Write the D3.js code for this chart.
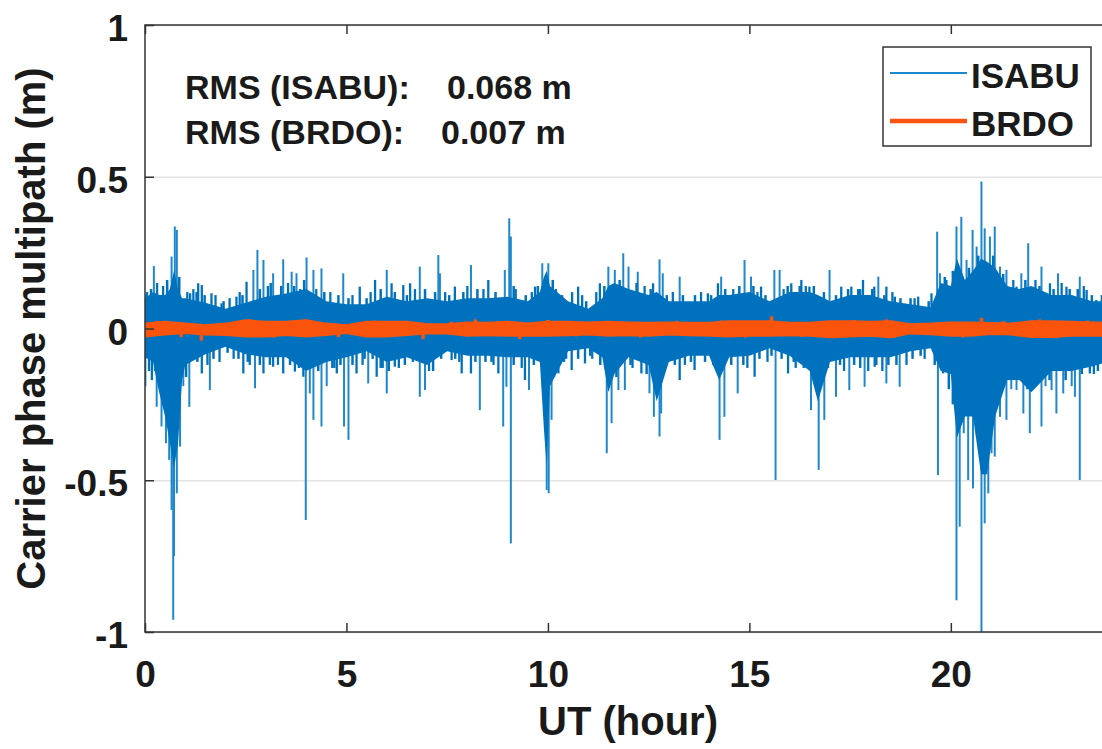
<!DOCTYPE html>
<html>
<head>
<meta charset="utf-8">
<script src="https://cdn.jsdelivr.net/npm/d3@7.9.0/dist/d3.min.js"></script>
<style>
  html, body { margin: 0; padding: 0; background: #fff; }
  svg { display: block; }
  text { font-family: 'Liberation Sans', Arial, Helvetica, sans-serif; font-weight: bold; fill: #1a1a1a; }
</style>
</head>
<body>
<svg id="chart" width="1102" height="749"></svg>
<script>
// ---- data ----
const xTicks = [0, 5, 10, 15, 20];
const yTicks = [-1, -0.5, 0, 0.5, 1];

// ISABU dense envelope (hours, upper / lower extents in m)
const envHours = [
  0, 0.2, 0.35, 0.5, 0.62, 0.72, 0.82, 0.92, 1.0, 1.5,
  2.0, 2.5, 3.0, 3.5, 4.0, 4.5, 5.0, 5.5, 6.0, 6.5,
  7.0, 7.5, 8.0, 8.5, 9.0, 9.5, 9.8, 9.9, 9.97, 10.05,
  10.5, 11.0, 11.35, 11.5, 11.65, 12.0, 12.5, 12.7, 13.0, 13.5,
  14.0, 14.25, 14.5, 15.0, 15.5, 16.0, 16.5, 16.7, 17.0, 17.5,
  18.0, 18.5, 19.0, 19.5, 19.75, 20.0, 20.15, 20.35, 20.55, 20.75,
  20.9, 21.1, 21.4, 21.7, 22.0, 22.5, 23.0, 23.5, 24.0
];
const envHi = [
  0.10, 0.12, 0.11, 0.11, 0.13, 0.19, 0.13, 0.10, 0.10, 0.085,
  0.065, 0.085, 0.105, 0.115, 0.13, 0.09, 0.08, 0.08, 0.105, 0.09,
  0.10, 0.09, 0.10, 0.10, 0.105, 0.09, 0.12, 0.17, 0.19, 0.14,
  0.09, 0.065, 0.10, 0.14, 0.15, 0.13, 0.11, 0.12, 0.09, 0.09,
  0.09, 0.11, 0.11, 0.12, 0.09, 0.12, 0.12, 0.11, 0.09, 0.11,
  0.11, 0.09, 0.08, 0.07, 0.15, 0.14, 0.23, 0.16, 0.19, 0.23,
  0.22, 0.20, 0.14, 0.13, 0.14, 0.11, 0.11, 0.09, 0.09
];
const envLo = [
  -0.095, -0.11, -0.21, -0.29, -0.38, -0.46, -0.38, -0.17, -0.12, -0.085,
  -0.06, -0.085, -0.095, -0.095, -0.14, -0.11, -0.095, -0.075, -0.11, -0.095,
  -0.12, -0.075, -0.09, -0.09, -0.095, -0.095, -0.11, -0.33, -0.46, -0.19,
  -0.075, -0.065, -0.095, -0.21, -0.15, -0.095, -0.12, -0.24, -0.11, -0.09,
  -0.09, -0.17, -0.095, -0.09, -0.065, -0.09, -0.14, -0.24, -0.11, -0.095,
  -0.095, -0.095, -0.075, -0.065, -0.14, -0.15, -0.36, -0.29, -0.29, -0.48,
  -0.48, -0.29, -0.17, -0.17, -0.21, -0.14, -0.14, -0.125, -0.105
];

// ISABU individual spikes [hour, m]
const isabuSpikes = [
  [0.04, 0.11], [0.22, 0.206], [0.66, 0.237], [0.74, 0.336], [0.79, 0.325], [1.12, 0.116],
  [1.32, 0.149], [1.41, 0.143], [1.65, 0.116], [1.9, 0.083], [2.27, 0.105], [2.52, 0.154],
  [2.69, 0.193], [2.79, 0.259], [2.94, 0.226], [3.18, 0.182], [3.43, 0.228], [3.64, 0.187],
  [3.76, 0.182], [4.01, 0.234], [4.18, 0.193], [4.38, 0.198], [4.92, 0.182], [5.33, 0.138],
  [5.71, 0.160], [6.00, 0.193],
  [0.01, -0.19], [0.17, -0.17], [0.29, -0.258], [0.41, -0.323], [0.52, -0.378], [0.60, -0.433],
  [0.66, -0.598], [0.70, -0.96], [0.72, -0.75], [0.79, -0.543], [0.87, -0.389], [0.95, -0.19],
  [1.10, -0.258], [1.41, -0.148], [1.61, -0.203], [2.44, -0.148], [2.73, -0.197], [2.94, -0.148],
  [3.18, -0.126], [3.43, -0.148], [3.72, -0.142], [3.93, -0.159], [3.99, -0.631], [4.09, -0.214],
  [4.18, -0.301], [4.38, -0.323], [4.51, -0.19], [4.76, -0.148], [4.94, -0.323], [5.05, -0.367],
  [5.25, -0.148], [5.54, -0.181], [5.75, -0.159], [6.00, -0.214],
  [6.12, 0.149], [6.41, 0.143], [6.58, 0.149], [6.82, 0.204], [7.28, 0.242], [7.32, 0.182],
  [7.69, 0.138], [8.09, 0.209], [8.52, 0.160], [8.93, 0.193], [9.04, 0.363], [9.08, 0.303],
  [9.68, 0.138], [9.86, 0.215], [10.01, 0.215], [10.75, 0.138], [11.29, 0.149], [11.50, 0.204],
  [11.66, 0.193], [11.87, 0.248], [12.0, 0.204],
  [6.20, -0.126], [6.82, -0.225], [6.95, -0.203], [7.61, -0.104], [7.86, -0.148], [8.09, -0.148],
  [8.31, -0.269], [8.77, -0.148], [8.89, -0.323], [8.97, -0.192], [9.08, -0.708], [9.43, -0.170],
  [9.53, -0.203], [9.89, -0.148], [9.97, -0.532], [10.02, -0.543], [10.09, -0.301], [10.26, -0.148],
  [10.59, -0.137], [10.92, -0.115], [11.46, -0.411], [11.58, -0.312], [11.75, -0.203], [11.91, -0.203],
  [12.23, 0.187], [12.61, 0.149], [12.77, 0.228], [12.85, 0.182], [13.27, 0.171], [13.97, 0.116],
  [14.22, 0.149], [14.30, 0.171], [14.88, 0.226], [15.04, 0.171], [15.29, 0.138], [15.62, 0.193],
  [15.75, 0.193], [16.04, 0.149], [16.29, 0.160], [16.49, 0.138], [16.99, 0.193], [17.28, 0.138],
  [17.53, 0.138], [17.82, 0.160], [18.10, 0.138],
  [12.32, -0.148], [12.52, -0.214], [12.63, -0.291], [12.77, -0.356], [12.81, -0.280], [13.27, -0.170],
  [13.64, -0.137], [14.26, -0.367], [14.38, -0.291], [14.71, -0.214], [15.13, -0.159], [15.65, -0.499],
  [15.96, -0.148], [16.53, -0.269], [16.72, -0.466], [16.86, -0.301], [17.15, -0.225], [17.48, -0.203],
  [17.86, -0.192],
  [18.20, 0.171], [18.40, 0.138], [18.61, 0.105], [19.19, 0.105], [19.52, 0.116], [19.66, 0.319],
  [19.73, 0.182], [19.89, 0.160], [20.14, 0.336], [20.26, 0.368], [20.39, 0.226], [20.54, 0.325],
  [20.64, 0.270], [20.76, 0.484], [20.84, 0.330], [20.97, 0.303], [21.09, 0.336], [21.22, 0.204],
  [21.38, 0.193], [21.63, 0.138], [21.75, 0.182], [21.92, 0.281], [22.25, 0.204], [22.46, 0.149],
  [22.66, 0.182], [22.87, 0.138], [23.20, 0.171], [23.37, 0.127], [23.61, 0.094],
  [18.11, -0.126], [18.40, -0.181], [18.73, -0.192], [19.68, -0.483], [19.81, -0.148], [20.14, -0.895],
  [20.22, -0.653], [20.32, -0.345], [20.43, -0.499], [20.55, -0.527], [20.76, -1.05], [20.84, -0.642],
  [20.93, -0.543], [21.01, -0.411], [21.09, -0.422], [21.22, -0.291], [21.38, -0.301], [21.63, -0.203],
  [21.80, -0.280], [21.96, -0.345], [22.25, -0.323], [22.50, -0.203], [22.62, -0.280], [22.79, -0.214],
  [23.08, -0.225], [23.20, -0.499], [23.45, -0.148], [23.70, -0.104],
  [0.05, 0.12], [0.1, -0.14], [0.3, 0.15], [0.45, 0.14], [1.05, 0.12], [1.2, 0.13], [1.55, -0.12],
  [1.75, 0.11], [1.85, -0.11], [2.1, 0.10], [2.2, -0.10], [2.35, 0.12], [2.6, -0.12], [3.05, 0.14],
  [3.3, -0.12], [3.55, 0.15], [3.85, 0.13], [4.25, 0.13], [4.6, 0.12], [4.7, -0.13], [5.15, 0.11],
  [5.4, -0.12], [5.6, 0.12], [5.9, -0.13], [6.3, -0.13], [6.7, 0.13], [7.05, -0.14], [7.45, 0.12],
  [7.8, -0.11], [8.0, 0.14], [8.4, 0.13], [8.65, -0.12], [9.2, 0.13], [9.35, -0.13], [9.6, 0.12],
  [10.2, 0.13], [10.4, -0.11], [10.6, 0.12], [10.85, 0.11], [11.1, -0.10], [11.2, 0.12], [12.1, -0.13],
  [12.4, 0.14], [13.1, 0.12], [13.4, -0.12], [13.8, 0.12], [14.1, -0.12], [14.6, 0.13], [14.95, -0.13],
  [15.2, 0.12], [15.45, -0.11], [15.85, 0.13], [16.15, -0.13], [16.4, 0.14], [17.35, -0.14], [17.7, 0.13],
  [17.95, -0.14], [18.3, -0.14], [18.55, 0.12], [18.9, -0.12], [19.1, 0.10], [19.35, -0.10], [21.55, 0.16],
  [21.5, -0.2], [22.1, 0.16], [22.35, -0.19], [22.75, 0.15], [23.0, -0.19], [23.3, 0.14], [23.55, -0.15],
  [23.8, 0.12], [23.9, -0.13]
];

// short excursions that roughen the edge of the dense band [hour, m]
const isabuEdge = [
  [0.15, 0.13], [0.55, 0.16], [0.85, 0.17], [1.28, 0.12], [1.48, 0.11], [1.95, 0.09], [2.42, 0.11],
  [2.85, 0.13], [3.12, 0.15], [3.38, 0.14], [3.7, 0.14], [3.95, 0.16], [4.45, 0.12], [4.8, 0.11],
  [5.05, 0.10], [5.5, 0.10], [5.85, 0.13], [6.2, 0.12], [6.5, 0.11], [6.95, 0.13], [7.2, 0.12],
  [7.55, 0.11], [7.9, 0.12], [8.25, 0.13], [8.7, 0.12], [9.15, 0.14], [9.45, 0.11], [9.75, 0.14],
  [10.12, 0.16], [10.35, 0.11], [10.95, 0.09], [11.4, 0.14], [11.78, 0.16], [12.2, 0.15], [12.55, 0.13],
  [12.95, 0.11], [13.35, 0.11], [13.65, 0.11], [14.05, 0.11], [14.4, 0.13], [14.75, 0.14], [15.1, 0.14],
  [15.4, 0.11], [15.95, 0.14], [16.25, 0.14], [16.6, 0.14], [16.85, 0.12], [17.15, 0.11], [17.45, 0.13],
  [17.75, 0.13], [18.05, 0.13], [18.35, 0.11], [18.75, 0.10], [19.0, 0.10], [19.45, 0.09], [19.85, 0.17],
  [20.05, 0.19], [20.45, 0.20], [20.68, 0.24], [21.05, 0.24], [21.3, 0.18], [21.85, 0.16], [22.2, 0.14],
  [22.55, 0.13], [22.95, 0.13], [23.15, 0.13], [23.5, 0.11], [23.75, 0.11],
  [0.25, -0.14], [1.02, -0.16], [1.3, -0.11], [1.7, -0.10], [2.05, -0.08], [2.32, -0.10], [2.55, -0.11],
  [2.85, -0.12], [3.1, -0.12], [3.6, -0.12], [3.82, -0.13], [4.3, -0.14], [4.65, -0.13], [4.85, -0.12],
  [5.15, -0.12], [5.45, -0.10], [5.65, -0.10], [5.85, -0.13], [6.05, -0.14], [6.45, -0.12], [6.65, -0.11],
  [7.15, -0.14], [7.35, -0.10], [7.7, -0.10], [8.2, -0.11], [8.45, -0.11], [8.6, -0.11], [9.15, -0.12],
  [9.65, -0.12], [10.15, -0.16], [10.45, -0.10], [10.75, -0.10], [11.05, -0.09], [11.3, -0.12], [11.7, -0.16],
  [12.05, -0.12], [12.45, -0.15], [12.9, -0.14], [13.15, -0.12], [13.55, -0.11], [13.9, -0.11], [14.15, -0.13],
  [14.55, -0.12], [14.85, -0.12], [15.25, -0.10], [15.55, -0.09], [15.8, -0.10], [16.1, -0.11], [16.35, -0.13],
  [16.95, -0.13], [17.25, -0.12], [17.6, -0.12], [17.75, -0.13], [18.15, -0.12], [18.45, -0.12], [18.65, -0.12],
  [19.05, -0.10], [19.25, -0.09], [19.6, -0.12], [19.95, -0.20], [20.05, -0.25], [20.65, -0.35], [21.15, -0.25],
  [21.45, -0.17], [21.9, -0.20], [22.15, -0.18], [22.45, -0.17], [22.85, -0.17], [23.25, -0.15], [23.65, -0.14],
  [23.85, -0.12]
];

// BRDO band (hours, upper / lower extents in m)
const brdoHours = [
  0, 0.5, 1, 1.5, 2, 2.5, 3, 3.5, 4, 4.5,
  5, 5.5, 6, 6.5, 7, 7.5, 8, 8.5, 9, 9.5,
  10, 10.5, 11, 11.5, 12, 12.5, 13, 13.5, 14, 14.5,
  15, 15.5, 16, 16.5, 17, 17.5, 18, 18.5, 19, 19.5,
  20, 20.5, 21, 21.5, 22, 22.5, 23, 23.5, 24
];
const brdoHi = [
  0.012, 0.018, 0.012, 0.007, 0.012, 0.023, 0.018, 0.018, 0.023, 0.012,
  0.007, 0.018, 0.018, 0.018, 0.010, 0.010, 0.016, 0.015, 0.018, 0.012,
  0.018, 0.018, 0.016, 0.018, 0.016, 0.015, 0.016, 0.015, 0.015, 0.020,
  0.020, 0.020, 0.015, 0.015, 0.020, 0.020, 0.018, 0.020, 0.010, 0.012,
  0.016, 0.016, 0.014, 0.012, 0.020, 0.020, 0.018, 0.016, 0.016
];
const brdoLo = [
  -0.022, -0.016, -0.011, -0.016, -0.017, -0.022, -0.022, -0.017, -0.022, -0.017,
  -0.011, -0.022, -0.022, -0.017, -0.012, -0.012, -0.020, -0.018, -0.020, -0.020,
  -0.020, -0.018, -0.016, -0.020, -0.018, -0.020, -0.016, -0.018, -0.020, -0.022,
  -0.020, -0.020, -0.018, -0.020, -0.025, -0.022, -0.020, -0.025, -0.012, -0.015,
  -0.020, -0.020, -0.014, -0.016, -0.024, -0.024, -0.020, -0.020, -0.020
];
const brdoSpikes = [
  [0.3, 0.025], [0.9, -0.028], [1.4, -0.04], [2.6, 0.03], [3.2, -0.03], [4.0, 0.03], [4.8, -0.028],
  [5.7, 0.026], [6.9, -0.035], [7.6, 0.022], [8.2, 0.03], [9.3, -0.035], [10.0, 0.028], [10.7, -0.026],
  [11.3, 0.024], [12.3, -0.03], [13.2, 0.025], [14.3, 0.026], [14.9, -0.03], [15.55, 0.04], [16.3, -0.028],
  [17.1, -0.032], [17.6, 0.028], [18.4, 0.03], [18.6, -0.03], [20.3, -0.03], [20.76, 0.035], [21.3, 0.024],
  [22.2, 0.03], [22.6, -0.032], [23.4, 0.026]
];

const rmsLabels = ['RMS (ISABU):', 'RMS (BRDO):'];
const rmsValues = ['0.068 m', '0.007 m'];
const seriesNames = ['ISABU', 'BRDO'];

// ---- layout ----
const plot = { left: 145, top: 25, right: 1112, bottom: 632 };
const blue = '#0072BD';
const spikeBlue = '#1f88cd';
const orange = '#FA540C';

const svg = d3.select('#chart');

const x = d3.scaleLinear().domain([0, 24]).range([plot.left, plot.right]);
const y = d3.scaleLinear().domain([-1, 1]).range([plot.bottom, plot.top]);

svg.append('defs').append('clipPath').attr('id', 'clip')
  .append('rect')
  .attr('x', plot.left).attr('y', plot.top)
  .attr('width', plot.right - plot.left).attr('height', plot.bottom - plot.top);

// grid lines (y only)
svg.append('g')
  .attr('transform', `translate(${plot.left},0)`)
  .call(d3.axisLeft(y).tickValues(yTicks).tickFormat('').tickSize(-(plot.right - plot.left)))
  .call(g => g.select('.domain').remove())
  .selectAll('line').attr('stroke', '#e3e3e3').attr('stroke-width', 1.5);

const data = svg.append('g').attr('clip-path', 'url(#clip)');

// long spikes (thin, lighter through antialiasing in the original)
data.append('g')
  .selectAll('line')
  .data(isabuSpikes)
  .join('line')
  .attr('x1', d => x(d[0])).attr('x2', d => x(d[0]))
  .attr('y1', y(0)).attr('y2', d => y(d[1]))
  .attr('stroke', d => Math.abs(d[1]) > 0.17 ? spikeBlue : blue)
  .attr('stroke-width', d => Math.abs(d[1]) > 0.17 ? 2 : 2.3);

data.append('g')
  .selectAll('line')
  .data(isabuEdge)
  .join('line')
  .attr('x1', d => x(d[0])).attr('x2', d => x(d[0]))
  .attr('y1', y(0)).attr('y2', d => y(d[1]))
  .attr('stroke', blue).attr('stroke-width', 2.5);

const env = envHours.map((h, i) => ({ h, hi: envHi[i], lo: envLo[i] }));
data.append('path')
  .datum(env)
  .attr('fill', blue)
  .attr('d', d3.area().x(d => x(d.h)).y0(d => y(d.lo)).y1(d => y(d.hi)));

const brdo = brdoHours.map((h, i) => ({ h, hi: brdoHi[i], lo: brdoLo[i] }));
data.append('path')
  .datum(brdo)
  .attr('fill', orange).attr('stroke', orange).attr('stroke-width', 4.5)
  .attr('stroke-linejoin', 'round')
  .attr('d', d3.area().x(d => x(d.h)).y0(d => y(d.lo)).y1(d => y(d.hi)));

data.append('g')
  .selectAll('line')
  .data(brdoSpikes)
  .join('line')
  .attr('x1', d => x(d[0])).attr('x2', d => x(d[0]))
  .attr('y1', y(0)).attr('y2', d => y(d[1]))
  .attr('stroke', orange).attr('stroke-width', 3.5);

// axes box
svg.append('rect')
  .attr('x', plot.left).attr('y', plot.top)
  .attr('width', plot.right - plot.left).attr('height', plot.bottom - plot.top)
  .attr('fill', 'none').attr('stroke', '#333').attr('stroke-width', 1.5);

const tickStyle = g => {
  g.select('.domain').remove();
  g.selectAll('line').attr('stroke', '#333').attr('stroke-width', 1.5);
  g.selectAll('text').attr('fill', '#1a1a1a').style('font-size', '37px')
    .style('font-family', "'Liberation Sans', Arial, sans-serif").style('font-weight', 'bold');
};

svg.append('g')
  .attr('transform', `translate(0,${plot.bottom})`)
  .call(d3.axisBottom(x).tickValues(xTicks).tickSize(-9).tickPadding(29).tickFormat(d => String(d)))
  .call(tickStyle);

svg.append('g')
  .attr('transform', `translate(0,${plot.top})`)
  .call(d3.axisTop(x).tickValues(xTicks).tickSize(-9).tickFormat(''))
  .call(tickStyle);

svg.append('g')
  .attr('transform', `translate(${plot.left},0)`)
  .call(d3.axisLeft(y).tickValues(yTicks).tickSize(-9).tickPadding(17).tickFormat(d => String(d)))
  .call(tickStyle)
  .selectAll('text').attr('dy', '0.42em');

svg.append('g')
  .attr('transform', `translate(${plot.right},0)`)
  .call(d3.axisRight(y).tickValues(yTicks).tickSize(-9).tickFormat(''))
  .call(tickStyle);

// axis labels
svg.append('text')
  .attr('x', 628).attr('y', 735)
  .attr('text-anchor', 'middle')
  .style('font-size', '40px')
  .text('UT (hour)');

svg.append('text')
  .attr('transform', `translate(45,${(plot.top + plot.bottom) / 2}) rotate(-90)`)
  .attr('text-anchor', 'middle')
  .style('font-size', '40px')
  .text('Carrier phase multipath (m)');

// RMS annotation
const rmsY = [99, 144];
const rmsValX = [447, 441];
rmsLabels.forEach((t, i) => {
  svg.append('text').attr('x', 185).attr('y', rmsY[i]).style('font-size', '34px').attr('fill', '#000').text(t);
  svg.append('text').attr('x', rmsValX[i]).attr('y', rmsY[i]).style('font-size', '34px').attr('fill', '#000').text(rmsValues[i]);
});

// legend
const legend = svg.append('g');
legend.append('rect')
  .attr('x', 883).attr('y', 47).attr('width', 208).attr('height', 99)
  .attr('fill', '#fff').attr('stroke', '#333').attr('stroke-width', 1.5);
const legY = [73, 121];
const legColor = [spikeBlue, orange];
const legWidth = [1.8, 4.5];
seriesNames.forEach((name, i) => {
  legend.append('line')
    .attr('x1', 890).attr('x2', 967).attr('y1', legY[i]).attr('y2', legY[i])
    .attr('stroke', legColor[i]).attr('stroke-width', legWidth[i]);
  legend.append('text')
    .attr('x', 971).attr('y', legY[i] + 15)
    .style('font-size', '35px').attr('fill', '#000')
    .text(name);
});
</script>
</body>
</html>
